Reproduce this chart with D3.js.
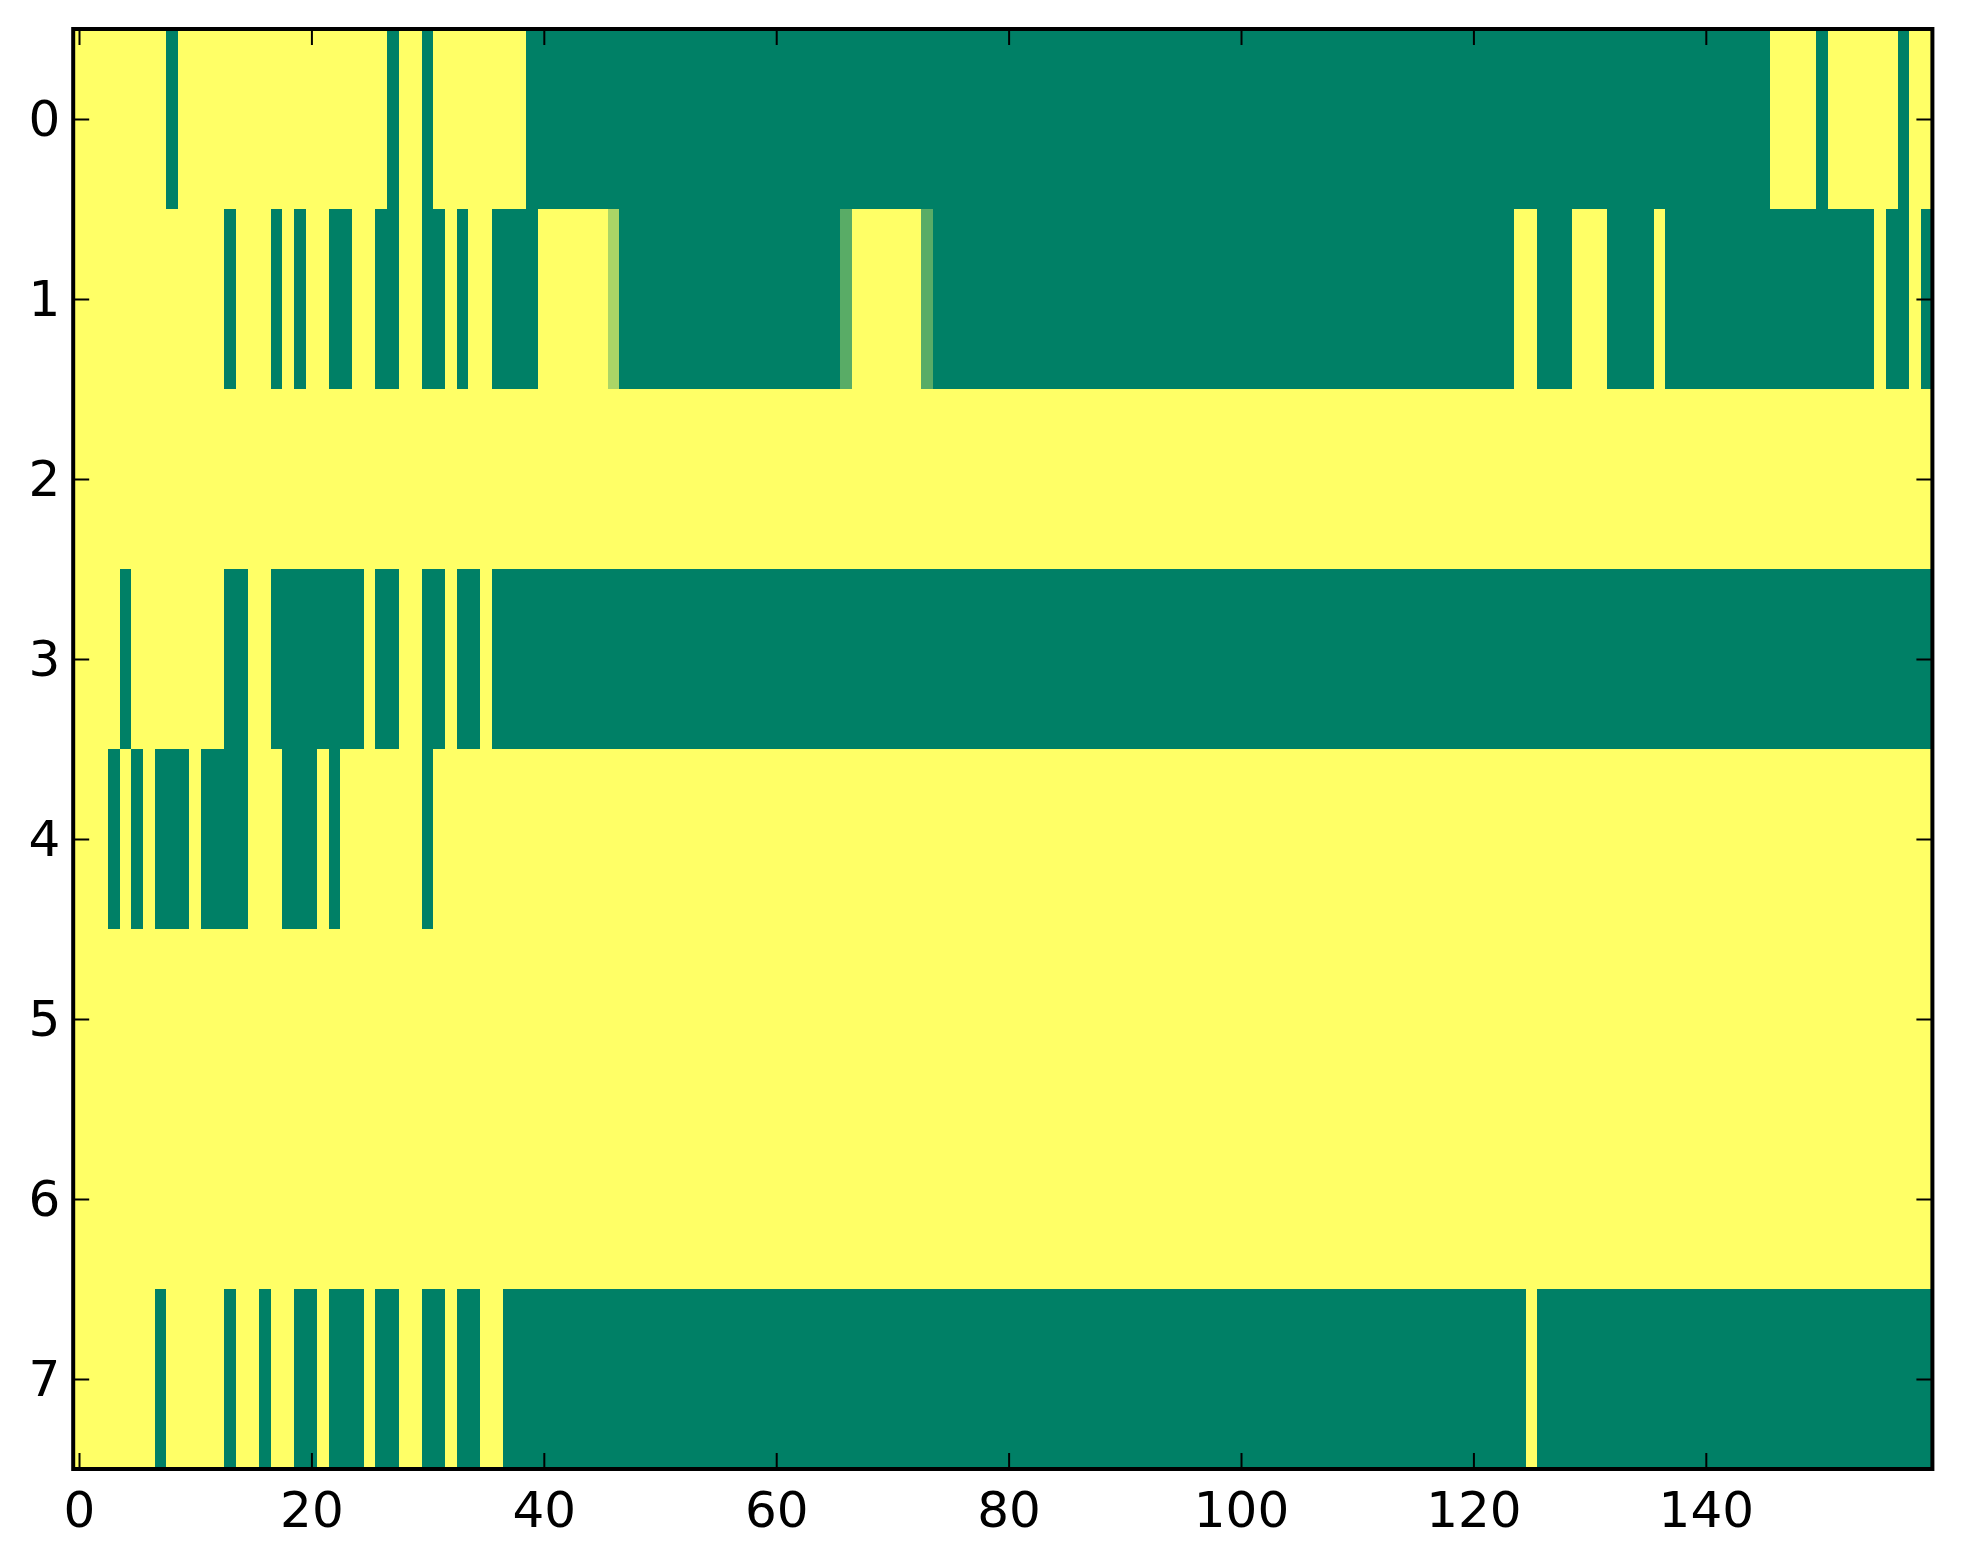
<!DOCTYPE html>
<html>
<head>
<meta charset="utf-8">
<script src="https://cdn.jsdelivr.net/npm/d3@7"></script>
<style>
  html, body { margin: 0; padding: 0; background: #ffffff; }
  svg { display: block; }
  .tick text { font-family: "DejaVu Sans", sans-serif; font-size: 50px; fill: #000; }
</style>
</head>
<body>
<svg id="chart" width="1963" height="1564"></svg>
<script>
// ---- data: one array per image row (0 = low / green, 1 = high / yellow) ----
const row0 = [
  1,1,1,1,1,1,1,1,0,1,
  1,1,1,1,1,1,1,1,1,1,
  1,1,1,1,1,1,1,0,1,1,
  0,1,1,1,1,1,1,1,1,0,
  0,0,0,0,0,0,0,0,0,0,
  0,0,0,0,0,0,0,0,0,0,
  0,0,0,0,0,0,0,0,0,0,
  0,0,0,0,0,0,0,0,0,0,
  0,0,0,0,0,0,0,0,0,0,
  0,0,0,0,0,0,0,0,0,0,
  0,0,0,0,0,0,0,0,0,0,
  0,0,0,0,0,0,0,0,0,0,
  0,0,0,0,0,0,0,0,0,0,
  0,0,0,0,0,0,0,0,0,0,
  0,0,0,0,0,0,1,1,1,1,
  0,1,1,1,1,1,1,0,1,1
];
const row1 = [
  1,1,1,1,1,1,1,1,1,1,
  1,1,1,0,1,1,1,0,1,0,
  1,1,0,0,1,1,0,0,1,1,
  0,0,1,0,1,1,0,0,0,0,
  1,1,1,1,1,1,0.67,0,0,0,
  0,0,0,0,0,0,0,0,0,0,
  0,0,0,0,0,0,0.35,1,1,1,
  1,1,1,0.35,0,0,0,0,0,0,
  0,0,0,0,0,0,0,0,0,0,
  0,0,0,0,0,0,0,0,0,0,
  0,0,0,0,0,0,0,0,0,0,
  0,0,0,0,0,0,0,0,0,0,
  0,0,0,0,1,1,0,0,0,1,
  1,1,0,0,0,0,1,0,0,0,
  0,0,0,0,0,0,0,0,0,0,
  0,0,0,0,0,1,0,0,1,0
];
const row2 = [
  1,1,1,1,1,1,1,1,1,1,
  1,1,1,1,1,1,1,1,1,1,
  1,1,1,1,1,1,1,1,1,1,
  1,1,1,1,1,1,1,1,1,1,
  1,1,1,1,1,1,1,1,1,1,
  1,1,1,1,1,1,1,1,1,1,
  1,1,1,1,1,1,1,1,1,1,
  1,1,1,1,1,1,1,1,1,1,
  1,1,1,1,1,1,1,1,1,1,
  1,1,1,1,1,1,1,1,1,1,
  1,1,1,1,1,1,1,1,1,1,
  1,1,1,1,1,1,1,1,1,1,
  1,1,1,1,1,1,1,1,1,1,
  1,1,1,1,1,1,1,1,1,1,
  1,1,1,1,1,1,1,1,1,1,
  1,1,1,1,1,1,1,1,1,1
];
const row3 = [
  1,1,1,1,0,1,1,1,1,1,
  1,1,1,0,0,1,1,0,0,0,
  0,0,0,0,0,1,0,0,1,1,
  0,0,1,0,0,1,0,0,0,0,
  0,0,0,0,0,0,0,0,0,0,
  0,0,0,0,0,0,0,0,0,0,
  0,0,0,0,0,0,0,0,0,0,
  0,0,0,0,0,0,0,0,0,0,
  0,0,0,0,0,0,0,0,0,0,
  0,0,0,0,0,0,0,0,0,0,
  0,0,0,0,0,0,0,0,0,0,
  0,0,0,0,0,0,0,0,0,0,
  0,0,0,0,0,0,0,0,0,0,
  0,0,0,0,0,0,0,0,0,0,
  0,0,0,0,0,0,0,0,0,0,
  0,0,0,0,0,0,0,0,0,0
];
const row4 = [
  1,1,1,0,1,0,1,0,0,0,
  1,0,0,0,0,1,1,1,0,0,
  0,1,0,1,1,1,1,1,1,1,
  0,1,1,1,1,1,1,1,1,1,
  1,1,1,1,1,1,1,1,1,1,
  1,1,1,1,1,1,1,1,1,1,
  1,1,1,1,1,1,1,1,1,1,
  1,1,1,1,1,1,1,1,1,1,
  1,1,1,1,1,1,1,1,1,1,
  1,1,1,1,1,1,1,1,1,1,
  1,1,1,1,1,1,1,1,1,1,
  1,1,1,1,1,1,1,1,1,1,
  1,1,1,1,1,1,1,1,1,1,
  1,1,1,1,1,1,1,1,1,1,
  1,1,1,1,1,1,1,1,1,1,
  1,1,1,1,1,1,1,1,1,1
];
const row5 = [
  1,1,1,1,1,1,1,1,1,1,
  1,1,1,1,1,1,1,1,1,1,
  1,1,1,1,1,1,1,1,1,1,
  1,1,1,1,1,1,1,1,1,1,
  1,1,1,1,1,1,1,1,1,1,
  1,1,1,1,1,1,1,1,1,1,
  1,1,1,1,1,1,1,1,1,1,
  1,1,1,1,1,1,1,1,1,1,
  1,1,1,1,1,1,1,1,1,1,
  1,1,1,1,1,1,1,1,1,1,
  1,1,1,1,1,1,1,1,1,1,
  1,1,1,1,1,1,1,1,1,1,
  1,1,1,1,1,1,1,1,1,1,
  1,1,1,1,1,1,1,1,1,1,
  1,1,1,1,1,1,1,1,1,1,
  1,1,1,1,1,1,1,1,1,1
];
const row6 = [
  1,1,1,1,1,1,1,1,1,1,
  1,1,1,1,1,1,1,1,1,1,
  1,1,1,1,1,1,1,1,1,1,
  1,1,1,1,1,1,1,1,1,1,
  1,1,1,1,1,1,1,1,1,1,
  1,1,1,1,1,1,1,1,1,1,
  1,1,1,1,1,1,1,1,1,1,
  1,1,1,1,1,1,1,1,1,1,
  1,1,1,1,1,1,1,1,1,1,
  1,1,1,1,1,1,1,1,1,1,
  1,1,1,1,1,1,1,1,1,1,
  1,1,1,1,1,1,1,1,1,1,
  1,1,1,1,1,1,1,1,1,1,
  1,1,1,1,1,1,1,1,1,1,
  1,1,1,1,1,1,1,1,1,1,
  1,1,1,1,1,1,1,1,1,1
];
const row7 = [
  1,1,1,1,1,1,1,0,1,1,
  1,1,1,0,1,1,0,1,1,0,
  0,1,0,0,0,1,0,0,1,1,
  0,0,1,0,0,1,1,0,0,0,
  0,0,0,0,0,0,0,0,0,0,
  0,0,0,0,0,0,0,0,0,0,
  0,0,0,0,0,0,0,0,0,0,
  0,0,0,0,0,0,0,0,0,0,
  0,0,0,0,0,0,0,0,0,0,
  0,0,0,0,0,0,0,0,0,0,
  0,0,0,0,0,0,0,0,0,0,
  0,0,0,0,0,0,0,0,0,0,
  0,0,0,0,0,1,0,0,0,0,
  0,0,0,0,0,0,0,0,0,0,
  0,0,0,0,0,0,0,0,0,0,
  0,0,0,0,0,0,0,0,0,0
];
const rows = [row0, row1, row2, row3, row4, row5, row6, row7];
const xTickValues = [0, 20, 40, 60, 80, 100, 120, 140];
const yTickValues = [0, 1, 2, 3, 4, 5, 6, 7];

// ---- layout ----
const mLeft = 73.2, mRight = 1932.4, mTop = 29, mBottom = 1469;
const nCols = row0.length, nRows = rows.length;

const svg = d3.select("#chart");
const x = d3.scaleLinear().domain([-0.5, nCols - 0.5]).range([mLeft, mRight]);
const y = d3.scaleLinear().domain([-0.5, nRows - 0.5]).range([mTop, mBottom]);
// matplotlib "summer" colormap: (0,0.5,0.4) -> (1,1,0.4)
const color = d3.scaleLinear().domain([0, 1]).range(["#008066", "#ffff66"]);

const cells = [];
rows.forEach((r, ri) => r.forEach((v, ci) => cells.push({ r: ri, c: ci, v })));

svg.append("g")
  .selectAll("rect")
  .data(cells)
  .join("rect")
  .attr("x", d => x(d.c - 0.5))
  .attr("y", d => y(d.r - 0.5))
  .attr("width", d => x(d.c + 0.5) - x(d.c - 0.5) + 0.6)
  .attr("height", d => y(d.r + 0.5) - y(d.r - 0.5) + 0.6)
  .attr("fill", d => color(d.v))
  .attr("shape-rendering", "crispEdges");

// ---- axes (ticks pointing inward on all sides, classic style) ----
const tickLen = 16;
const styleAxis = g => {
  g.select(".domain").remove();
  g.selectAll(".tick line").attr("stroke", "#000").attr("stroke-width", 2);
};

svg.append("g")
  .attr("transform", `translate(0,${mBottom})`)
  .call(d3.axisBottom(x).tickValues(xTickValues).tickSize(-tickLen).tickPadding(22).tickFormat(d3.format("d")))
  .call(styleAxis);

svg.append("g")
  .attr("transform", `translate(0,${mTop})`)
  .call(d3.axisTop(x).tickValues(xTickValues).tickSize(-tickLen).tickFormat(""))
  .call(styleAxis);

svg.append("g")
  .attr("transform", `translate(${mLeft},0)`)
  .call(d3.axisLeft(y).tickValues(yTickValues).tickSize(-tickLen).tickPadding(13).tickFormat(d3.format("d")))
  .call(styleAxis);

svg.append("g")
  .attr("transform", `translate(${mRight},0)`)
  .call(d3.axisRight(y).tickValues(yTickValues).tickSize(-tickLen).tickFormat(""))
  .call(styleAxis);

svg.selectAll(".tick text")
  .style("font-family", '"DejaVu Sans", sans-serif')
  .style("font-size", "50px")
  .attr("fill", "#000");

// frame / spines
svg.append("rect")
  .attr("x", mLeft).attr("y", mTop)
  .attr("width", mRight - mLeft).attr("height", mBottom - mTop)
  .attr("fill", "none")
  .attr("stroke", "#000")
  .attr("stroke-width", 4);
</script>
</body>
</html>
